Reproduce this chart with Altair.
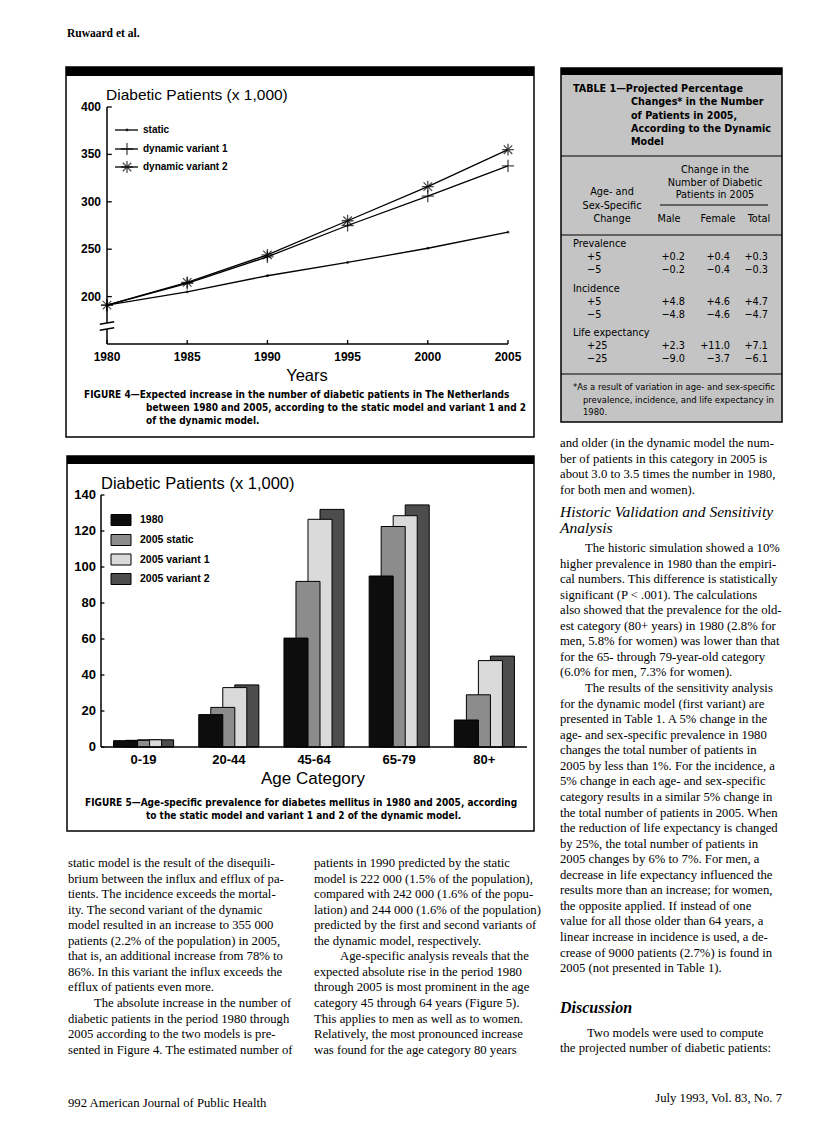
import altair as alt
import pandas as pd

# ---------------- data: Figure 4 ----------------
years = [1980, 1985, 1990, 1995, 2000, 2005]
static_model = [191, 205, 222, 236, 251, 268]
dynamic_v1 = [191, 214, 242, 275, 306, 338]
dynamic_v2 = [191, 215, 244, 280, 316, 355]
series4 = ["static", "dynamic variant 1", "dynamic variant 2"]
y4_ticks = [200, 250, 300, 350, 400]

# ---------------- data: Figure 5 ----------------
age_groups = ["0-19", "20-44", "45-64", "65-79", "80+"]
series5 = ["1980", "2005 static", "2005 variant 1", "2005 variant 2"]
prev_1980 = [3.5, 18, 60.5, 95, 15]
prev_2005_static = [3.7, 22, 92, 122.5, 29]
prev_2005_v1 = [4, 33, 126.5, 128.5, 48]
prev_2005_v2 = [4, 34.5, 132, 134.5, 50.5]
y5_ticks = [0, 20, 40, 60, 80, 100, 120, 140]

# ---------------- data: Table 1 ----------------
table_title = ["TABLE 1\u2014Projected Percentage", "Changes* in the Number",
               "of Patients in 2005,", "According to the Dynamic", "Model"]
table_head_right = ["Change in the", "Number of Diabetic", "Patients in 2005"]
table_head_left = ["Age- and", "Sex-Specific", "Change"]
table_cols = ["Male", "Female", "Total"]
table_groups = ["Prevalence", "Incidence", "Life expectancy"]
table_change = ["+5", "\u22125", "+5", "\u22125", "+25", "\u221225"]
table_male = ["+0.2", "\u22120.2", "+4.8", "\u22124.8", "+2.3", "\u22129.0"]
table_female = ["+0.4", "\u22120.4", "+4.6", "\u22124.6", "+11.0", "\u22123.7"]
table_total = ["+0.3", "\u22120.3", "+4.7", "\u22124.7", "+7.1", "\u22126.1"]
table_note = ["*As a result of variation in age- and sex-specific",
              "prevalence, incidence, and life expectancy in", "1980."]

# ---------------- page text ----------------
header = "Ruwaard et al."
fig4_caption = ["FIGURE 4\u2014Expected increase in the number of diabetic patients in The Netherlands",
                "between 1980 and 2005, according to the static model and variant 1 and 2",
                "of the dynamic model."]
fig5_caption = ["FIGURE 5\u2014Age-specific prevalence for diabetes mellitus in 1980 and 2005, according",
                "to the static model and variant 1 and 2 of the dynamic model."]
col1 = ["static model is the result of the disequili-",
        "brium between the influx and efflux of pa-",
        "tients. The incidence exceeds the mortal-",
        "ity. The second variant of the dynamic",
        "model resulted in an increase to 355 000",
        "patients (2.2% of the population) in 2005,",
        "that is, an additional increase from 78% to",
        "86%. In this variant the influx exceeds the",
        "efflux of patients even more.",
        "The absolute increase in the number of",
        "diabetic patients in the period 1980 through",
        "2005 according to the two models is pre-",
        "sented in Figure 4. The estimated number of"]
col2 = ["patients in 1990 predicted by the static",
        "model is 222 000 (1.5% of the population),",
        "compared with 242 000 (1.6% of the popu-",
        "lation) and 244 000 (1.6% of the population)",
        "predicted by the first and second variants of",
        "the dynamic model, respectively.",
        "Age-specific analysis reveals that the",
        "expected absolute rise in the period 1980",
        "through 2005 is most prominent in the age",
        "category 45 through 64 years (Figure 5).",
        "This applies to men as well as to women.",
        "Relatively, the most pronounced increase",
        "was found for the age category 80 years"]
col3a = ["and older (in the dynamic model the num-",
         "ber of patients in this category in 2005 is",
         "about 3.0 to 3.5 times the number in 1980,",
         "for both men and women)."]
col3_heading = ["Historic Validation and Sensitivity", "Analysis"]
col3b = ["The historic simulation showed a 10%",
         "higher prevalence in 1980 than the empiri-",
         "cal numbers. This difference is statistically",
         "significant (P < .001). The calculations",
         "also showed that the prevalence for the old-",
         "est category (80+ years) in 1980 (2.8% for",
         "men, 5.8% for women) was lower than that",
         "for the 65- through 79-year-old category",
         "(6.0% for men, 7.3% for women).",
         "The results of the sensitivity analysis",
         "for the dynamic model (first variant) are",
         "presented in Table 1. A 5% change in the",
         "age- and sex-specific prevalence in 1980",
         "changes the total number of patients in",
         "2005 by less than 1%. For the incidence, a",
         "5% change in each age- and sex-specific",
         "category results in a similar 5% change in",
         "the total number of patients in 2005. When",
         "the reduction of life expectancy is changed",
         "by 25%, the total number of patients in",
         "2005 changes by 6% to 7%. For men, a",
         "decrease in life expectancy influenced the",
         "results more than an increase; for women,",
         "the opposite applied. If instead of one",
         "value for all those older than 64 years, a",
         "linear increase in incidence is used, a de-",
         "crease of 9000 patients (2.7%) is found in",
         "2005 (not presented in Table 1)."]
col3_heading2 = "Discussion"
col3c = ["Two models were used to compute",
         "the projected number of diabetic patients:"]
footer_left = "992   American Journal of Public Health"
footer_right = "July 1993, Vol. 83, No. 7"

# ---------------- helpers ----------------
OFF = 8


def P(v):
    return v - OFF


SANS = "Liberation Sans, Arial, sans-serif"
NARROW = "Liberation Sans Narrow, DejaVu Sans Condensed, sans-serif"
SERIF = "Liberation Serif, Times New Roman, serif"
LEAD = 15.56
BODY = 12.7


def txt(rows, font, size, weight="normal", style="normal", align="left"):
    df = pd.DataFrame({"t": [r[0] for r in rows],
                       "px": [P(r[1]) for r in rows],
                       "py": [P(r[2]) for r in rows]})
    return alt.Chart(df).mark_text(font=font, fontSize=size, fontWeight=weight,
                                   fontStyle=style, align=align, baseline="middle",
                                   color="black").encode(
        x=alt.X("px:Q", scale=None), y=alt.Y("py:Q", scale=None), text="t:N")


def para(lines, x, y0, indent_x=None, indents=()):
    return [(s, indent_x if i in indents else x, y0 + i * LEAD) for i, s in enumerate(lines)]


def boxes(rows, **kw):
    df = pd.DataFrame([[P(v) for v in r] for r in rows], columns=["x", "x2", "y", "y2"])
    return alt.Chart(df).mark_rect(**kw).encode(
        x=alt.X("x:Q", scale=None), x2="x2:Q", y=alt.Y("y:Q", scale=None), y2="y2:Q")


def lines_px(rows, width=1.0):
    df = pd.DataFrame([[P(v) for v in r] for r in rows], columns=["x", "x2", "y", "y2"])
    return alt.Chart(df).mark_rule(color="black", strokeWidth=width).encode(
        x=alt.X("x:Q", scale=None), x2="x2:Q", y=alt.Y("y:Q", scale=None), y2="y2:Q")


layers = []

# ---------------- frames ----------------
layers.append(boxes([(66, 534, 67, 437), (67, 534, 456, 831)], fill="white", stroke="black", strokeWidth=1.5))
layers.append(boxes([(561, 782, 68, 422)], fill="#c4c4c4", stroke="black", strokeWidth=1.5))
layers.append(boxes([(66, 534, 67, 76), (67, 534, 456, 464), (561, 782, 68, 75)], fill="black"))
layers.append(lines_px([(561, 782, 156, 156), (561, 782, 235, 235), (561, 782, 374, 374),
                        (660, 768, 205, 205)], width=1.2))

# ---------------- Figure 4 ----------------
s4x = alt.Scale(domain=[1980, 2005], range=[P(107), P(508)], nice=False, zero=False)
s4y = alt.Scale(domain=[150, 400], range=[P(344), P(107)], nice=False, zero=False)


def X4(f):
    return alt.X(f, type="quantitative", scale=s4x, axis=None)


def Y4(f):
    return alt.Y(f, type="quantitative", scale=s4y, axis=None)


df4 = pd.DataFrame({"year": years * 3,
                    "value": static_model + dynamic_v1 + dynamic_v2,
                    "series": sum([[s] * len(years) for s in series4], [])})
PLUS = "M-1,0L1,0M0,-1L0,1"
STAR = "M-1,0L1,0M0,-1L0,1M-0.72,-0.72L0.72,0.72M-0.72,0.72L0.72,-0.72"

base4 = alt.Chart(df4)
f4_lines = base4.mark_line(color="black", strokeWidth=1.3).encode(x=X4("year"), y=Y4("value"), detail="series:N")
f4_p0 = base4.transform_filter(alt.datum.series == series4[0]).mark_point(
    shape="circle", filled=True, size=8, color="black").encode(x=X4("year"), y=Y4("value"))
f4_p1 = base4.transform_filter(alt.datum.series == series4[1]).mark_point(
    shape=PLUS, filled=False, size=150, color="black", strokeWidth=1.3).encode(x=X4("year"), y=Y4("value"))
f4_p2 = base4.transform_filter(alt.datum.series == series4[2]).mark_point(
    shape=STAR, filled=False, size=140, color="black", strokeWidth=1.3).encode(x=X4("year"), y=Y4("value"))

ymin4, ymax4 = 150, 400
ax4 = pd.DataFrame({"x": [1980, 1980, 1980], "x2": [1980, 1980, 2005],
                    "y": [ymax4, 165.8, ymin4], "y2": [172.2, ymin4, ymin4]})
f4_axes = alt.Chart(ax4).mark_rule(color="black", strokeWidth=1.5).encode(
    x=X4("x"), x2="x2:Q", y=Y4("y"), y2="y2:Q")
brk = pd.DataFrame({"x": [1979.55, 1979.55], "x2": [1980.45, 1980.45],
                    "y": [170.9, 164.5], "y2": [173.5, 167.1]})
f4_break = alt.Chart(brk).mark_rule(color="black", strokeWidth=1.5).encode(
    x=X4("x"), x2="x2:Q", y=Y4("y"), y2="y2:Q")
yt4 = pd.DataFrame({"v": y4_ticks, "x": 1980, "x2": 1980.3})
f4_yticks = alt.Chart(yt4).mark_rule(color="black", strokeWidth=1.3).encode(x=X4("x"), x2="x2:Q", y=Y4("v"))
f4_ylabels = alt.Chart(yt4).mark_text(align="right", baseline="middle", dx=-6, font=SANS,
                                      fontSize=12, fontWeight="bold", color="black").encode(
    x=X4("x"), y=Y4("v"), text="v:Q")
xt4 = pd.DataFrame({"year": years, "y": ymin4, "y2": ymin4 + 4.2})
f4_xticks = alt.Chart(xt4).mark_rule(color="black", strokeWidth=1.3).encode(x=X4("year"), y=Y4("y"), y2="y2:Q")
f4_xlabels = alt.Chart(xt4).mark_text(align="center", baseline="middle", dy=13, font=SANS,
                                      fontSize=12, fontWeight="bold", color="black").encode(
    x=X4("year"), y=Y4("y"), text="year:O")

fig4 = alt.layer(f4_axes, f4_break, f4_yticks, f4_xticks, f4_ylabels, f4_xlabels,
                 f4_lines, f4_p0, f4_p1, f4_p2)
layers.append(fig4)

# Figure 4 legend (drawn key)
leg4_y = [130, 149, 167]
layers.append(lines_px([(115, 138, y, y) for y in leg4_y], width=1.3))
leg4_df = pd.DataFrame({"px": [P(127)] * 3, "py": [P(y) for y in leg4_y], "s": series4})
for s, shp, size, filled in [(series4[0], "circle", 8, True), (series4[1], PLUS, 150, False),
                             (series4[2], STAR, 140, False)]:
    layers.append(alt.Chart(leg4_df).transform_filter(alt.datum.s == s).mark_point(
        shape=shp, size=size, filled=filled, color="black", strokeWidth=1.3).encode(
        x=alt.X("px:Q", scale=None), y=alt.Y("py:Q", scale=None)))
layers.append(txt([(s, 143, y) for s, y in zip(series4, leg4_y)], SANS, 10, weight="bold"))
layers.append(txt([("Diabetic Patients (x 1,000)", 106, 95)], SANS, 15.5))
layers.append(txt([("Years", 307, 376)], SANS, 16.5, align="center"))
layers.append(txt([(fig4_caption[0], 84, 395), (fig4_caption[1], 146, 408), (fig4_caption[2], 146, 421)],
                  NARROW, 10, weight="bold"))

# ---------------- Figure 5 ----------------
s5x = alt.Scale(domain=[-0.5, 4.5], range=[P(101), P(527)], nice=False, zero=False)
s5y = alt.Scale(domain=[0, 140], range=[P(747), P(495)], nice=False, zero=False)


def X5(f):
    return alt.X(f, type="quantitative", scale=s5x, axis=None)


def Y5(f):
    return alt.Y(f, type="quantitative", scale=s5y, axis=None)


vals5 = [prev_1980, prev_2005_static, prev_2005_v1, prev_2005_v2]
rows5 = []
for j in reversed(range(len(series5))):  # back-most series first
    for i, g in enumerate(age_groups):
        rows5.append({"i": i, "j": j, "age": g, "series": series5[j], "value": vals5[j][i]})
df5 = pd.DataFrame(rows5)
grays = ["#0d0d0d", "#8c8c8c", "#dadada", "#4d4d4d"]
fill5 = alt.Scale(domain=series5, range=grays)

f5_bars = alt.Chart(df5).transform_calculate(
    x0="datum.i + (datum.j - 2.5) * 0.141",
    x1="datum.i + (datum.j - 0.5) * 0.141",
    zero="0").mark_rect(stroke="black", strokeWidth=1).encode(
    x=X5("x0"), x2="x1:Q", y=Y5("value"), y2="zero:Q",
    fill=alt.Fill("series:N", scale=fill5, legend=None))
ax5 = pd.DataFrame({"x": [-0.5, -0.5], "x2": [-0.5, 4.5], "y": [0, 0], "y2": [140, 0]})
f5_axes = alt.Chart(ax5).mark_rule(color="black", strokeWidth=1.5).encode(
    x=X5("x"), x2="x2:Q", y=Y5("y"), y2="y2:Q")
yt5 = pd.DataFrame({"v": y5_ticks, "x": -0.5, "x2": -0.5 + 0.04})
f5_yticks = alt.Chart(yt5).mark_rule(color="black", strokeWidth=1.3).encode(x=X5("x"), x2="x2:Q", y=Y5("v"))
f5_ylabels = alt.Chart(yt5).mark_text(align="right", baseline="middle", dx=-5, font=SANS,
                                      fontSize=13, fontWeight="bold", color="black").encode(
    x=X5("x"), y=Y5("v"), text="v:Q")
xt5 = pd.DataFrame({"i": list(range(len(age_groups))), "age": age_groups, "y": 0})
f5_xlabels = alt.Chart(xt5).mark_text(align="center", baseline="middle", dy=13, font=SANS,
                                      fontSize=13, fontWeight="bold", color="black").encode(
    x=X5("i"), y=Y5("y"), text="age:N")
fig5 = alt.layer(f5_bars, f5_axes, f5_yticks, f5_ylabels, f5_xlabels)
layers.append(fig5)

# Figure 5 legend (drawn key)
leg5_y = [520, 540, 559.5, 579]
leg5 = pd.DataFrame({"x": P(111), "x2": P(131), "y": [P(y - 5.5) for y in leg5_y],
                     "y2": [P(y + 5.5) for y in leg5_y], "series": series5})
layers.append(alt.Chart(leg5).mark_rect(stroke="black", strokeWidth=1).encode(
    x=alt.X("x:Q", scale=None), x2="x2:Q", y=alt.Y("y:Q", scale=None), y2="y2:Q",
    fill=alt.Fill("series:N", scale=fill5, legend=None)))
layers.append(txt([(s, 140, y) for s, y in zip(series5, leg5_y)], SANS, 10.5, weight="bold"))
layers.append(txt([("Diabetic Patients (x 1,000)", 101, 484)], SANS, 16.5))
layers.append(txt([("Age Category", 313, 779)], SANS, 17, align="center"))
layers.append(txt([(fig5_caption[0], 85, 803), (fig5_caption[1], 146, 816)], NARROW, 10, weight="bold"))

# ---------------- Table 1 ----------------
layers.append(txt([(table_title[0], 573, 89)] +
                  [(s, 631, y) for s, y in zip(table_title[1:], [102, 116, 129, 142])],
                  NARROW, 10.7, weight="bold"))
layers.append(txt([(s, 715, y) for s, y in zip(table_head_right, [170, 183, 195])] +
                  [(s, 612, y) for s, y in zip(table_head_left, [192, 205.5, 219])] +
                  [(s, x, 219) for s, x in zip(table_cols, [669, 718, 759])],
                  NARROW, 10.8, align="center"))
grp_y = [244, 289, 333]
layers.append(txt([(g, 573, y) for g, y in zip(table_groups, grp_y)], NARROW, 10.8))
row_y = [grp_y[k // 2] + 13 + 12.5 * (k % 2) for k in range(6)]
layers.append(txt([(c, 587, y) for c, y in zip(table_change, row_y)], NARROW, 10.8))
layers.append(txt([(v, 685, y) for v, y in zip(table_male, row_y)] +
                  [(v, 730, y) for v, y in zip(table_female, row_y)] +
                  [(v, 768, y) for v, y in zip(table_total, row_y)], NARROW, 10.8, align="right"))
layers.append(txt([(table_note[0], 573, 387), (table_note[1], 583, 400), (table_note[2], 583, 412)],
                  NARROW, 9.4))

# ---------------- body text ----------------
layers.append(txt([(header, 67, 34)], SERIF, 11.5, weight="bold"))
layers.append(txt(para(col1, 68, 863, 94, {9}) + para(col2, 314, 863, 340, {6}) +
                  para(col3a, 560, 443) + para(col3b, 560, 548, 585, {0, 9}) +
                  para(col3c, 560, 1032.5, 587, {0}), SERIF, BODY))
layers.append(txt([(col3_heading[0], 560, 512), (col3_heading[1], 560, 528)], SERIF, 15.5, style="italic"))
layers.append(txt([(col3_heading2, 560, 1008)], SERIF, 16, weight="bold", style="italic"))
layers.append(txt([(footer_left, 68, 1103)], SERIF, BODY))
layers.append(txt([(footer_right, 782, 1098)], SERIF, BODY, align="right"))

chart = alt.layer(*layers).resolve_scale(
    x="independent", y="independent", fill="independent"
).properties(
    width=800, height=1114, autosize=alt.AutoSizeParams(type="none"), padding=0,
    background="white"
).configure_view(stroke=None)

chart.save("out.html", embed_options={"renderer": "svg", "actions": False})
